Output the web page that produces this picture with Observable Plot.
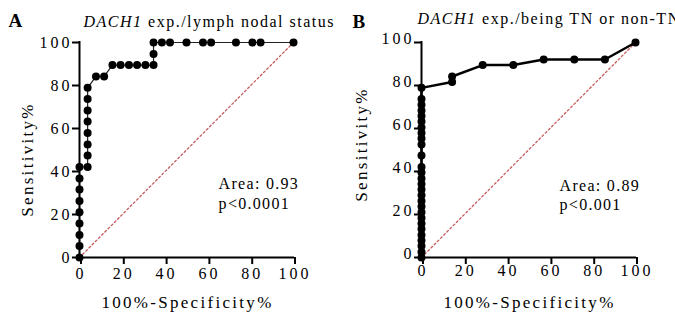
<!DOCTYPE html>
<html><head><meta charset="utf-8">
<script src="https://cdn.jsdelivr.net/npm/d3@7"></script>
<script src="https://cdn.jsdelivr.net/npm/@observablehq/plot@0.6"></script>
<style>
body{margin:0;background:#fff;}
#wrap{display:flex;width:675px;height:320px;overflow:hidden;background:#fff;}
</style></head><body><div id="wrap"></div>
<script>
const panelLetters = ["A", "B"];
const titleGene = ["DACH1", "DACH1"];
const titleRest = [" exp./lymph nodal status", " exp./being TN or non-TN"];
const xLabel = "100%-Specificity%";
const yLabel = "Sensitivity%";
const tickValues = [0, 20, 40, 60, 80, 100];
const areaText = ["Area: 0.93", "Area: 0.89"];
const pText = ["p<0.0001", "p<0.001"];

// Panel A: 100%-Specificity% (x) and Sensitivity% (y)
const fprA = [0, 0, 0, 0, 0, 0, 0, 0, 0,
  3.8, 3.8, 3.8, 3.8, 3.8, 3.8, 3.8, 3.8,
  7.7, 11.5,
  15.4, 19.2, 23.1, 26.9, 30.8, 34.6,
  34.6, 34.6,
  38.5, 42.3, 50, 57.7, 61.5, 73.1, 80.8, 84.6, 100];
const tprA = [0, 5.3, 10.5, 15.8, 21.1, 26.3, 31.6, 36.8, 42.1,
  42.1, 47.4, 52.6, 57.9, 63.2, 68.4, 73.7, 78.9,
  84.2, 84.2,
  89.5, 89.5, 89.5, 89.5, 89.5, 89.5,
  94.7, 100,
  100, 100, 100, 100, 100, 100, 100, 100, 100];

// Panel B
const fprB = [0, 0, 0, 0, 0, 0, 0, 0, 0, 0, 0, 0, 0, 0, 0, 0, 0,
  0, 0, 0, 0, 0, 0, 0, 0, 0, 0, 0,
  14.3, 14.3, 28.6, 42.9, 57.1, 71.4, 85.7, 100];
const tprB = [0, 2.6, 5.3, 7.9, 10.5, 13.2, 15.8, 18.4, 21.1, 23.7, 26.3, 28.9, 31.6, 34.2, 36.8, 39.5, 42.1,
  47.4, 52.6, 55.3, 57.9, 60.5, 63.2, 65.8, 68.4, 71.1, 73.7, 78.9,
  81.6, 84.2, 89.5, 89.5, 92.1, 92.1, 92.1, 100];

const chance = [0, 100];
const FONT = "Liberation Serif";

const panels = [
  {fpr: fprA, tpr: tprA, width: 335, ml: 79, mr: 42, lw: 1.2, lineColor: "#222",
   yLabX: -24.5, yLabY: 45.6, yTickDy: 0, xTickPad: 3, letterDx: -71, letterDy: -16,
   titleDx: 4, titleDy: -16, annX: 65, annY: 38},
  {fpr: fprB, tpr: tprB, width: 340, ml: 86, mr: 40, lw: 2.5, lineColor: "#000",
   yLabX: -27.8, yLabY: 52.6, yTickDy: -4, xTickPad: 0, letterDx: -69, letterDy: -15,
   titleDx: -4, titleDy: -19, annX: 64.5, annY: 37.5}
];

const spacing = {"axis-title": "2.3px", "panel-title": "1.5px", "annotation": "1.3px", "panel-letter": "0px"};

const wrap = document.getElementById("wrap");
panels.forEach((p, i) => {
  const table = p.fpr.map((x, k) => ({x, y: p.tpr[k]}));
  const svg = Plot.plot({
    width: p.width, height: 320,
    marginLeft: p.ml, marginRight: p.mr, marginTop: 42, marginBottom: 63,
    style: "background: transparent; color: #000; overflow: visible;",
    x: {domain: [0, 100]},
    y: {domain: [0, 100]},
    marks: [
      Plot.line(chance, {x: d => d, y: d => d, stroke: "#c45c5c", strokeWidth: 1.3, strokeDasharray: "2,2.5"}),
      Plot.line(table, {x: "x", y: "y", stroke: p.lineColor, strokeWidth: p.lw}),
      Plot.dot(table, {x: "x", y: "y", r: 4, fill: "#000", stroke: null}),
      Plot.ruleX([0], {y1: 0, y2: 100, stroke: "#000", strokeWidth: 2, strokeLinecap: "square"}),
      Plot.ruleY([0], {x1: 0, x2: 100, stroke: "#000", strokeWidth: 2, strokeLinecap: "square"}),
      Plot.axisY(tickValues, {tickSize: 7, tickFormat: () => "", strokeWidth: 2, label: null}),
      Plot.axisY(tickValues, {tickSize: 0, tickPadding: 7, fontSize: 16, fontFamily: FONT, label: null, dy: p.yTickDy}),
      Plot.axisX(tickValues, {tickSize: 7, tickPadding: p.xTickPad, strokeWidth: 2, fontSize: 16, fontFamily: FONT, label: null, dx: 1.5}),
      Plot.text([yLabel], {text: d => d, x: p.yLabX, y: p.yLabY, rotate: -90, fontSize: 17, fontFamily: FONT, ariaLabel: () => "axis-title"}),
      Plot.text([xLabel], {text: d => d, frameAnchor: "bottom", dy: 50.6, dx: 1, fontSize: 17, fontFamily: FONT, ariaLabel: () => "axis-title"}),
      Plot.text([titleGene[i] + titleRest[i]], {text: d => d, frameAnchor: "top-left", textAnchor: "start", lineAnchor: "bottom", dx: p.titleDx, dy: p.titleDy, fontSize: 16, fontFamily: FONT, ariaLabel: () => "panel-title"}),
      Plot.text([panelLetters[i]], {text: d => d, frameAnchor: "top-left", textAnchor: "start", lineAnchor: "bottom", dx: p.letterDx, dy: p.letterDy, fontSize: 19, fontWeight: "bold", fontFamily: FONT, ariaLabel: () => "panel-letter"}),
      Plot.text([areaText[i] + "\n" + pText[i]], {text: d => d, x: p.annX, y: p.annY, textAnchor: "start", lineAnchor: "top", lineHeight: 1.2, fontSize: 16, fontFamily: FONT, ariaLabel: () => "annotation"})
    ]
  });
  const t = svg.querySelector('text[aria-label="panel-title"]');
  if (t) {
    const ns = "http://www.w3.org/2000/svg";
    t.textContent = "";
    const s1 = document.createElementNS(ns, "tspan");
    s1.setAttribute("font-style", "italic");
    s1.textContent = titleGene[i];
    const s2 = document.createElementNS(ns, "tspan");
    s2.textContent = titleRest[i];
    t.appendChild(s1); t.appendChild(s2);
  }
  svg.querySelectorAll("text").forEach(el => {
    el.style.fontFamily = "'Liberation Serif'";
    const key = el.getAttribute("aria-label");
    el.style.letterSpacing = spacing[key] || "3px";
  });
  svg.style.overflow = "visible";
  wrap.appendChild(svg);
});
</script></body></html>
